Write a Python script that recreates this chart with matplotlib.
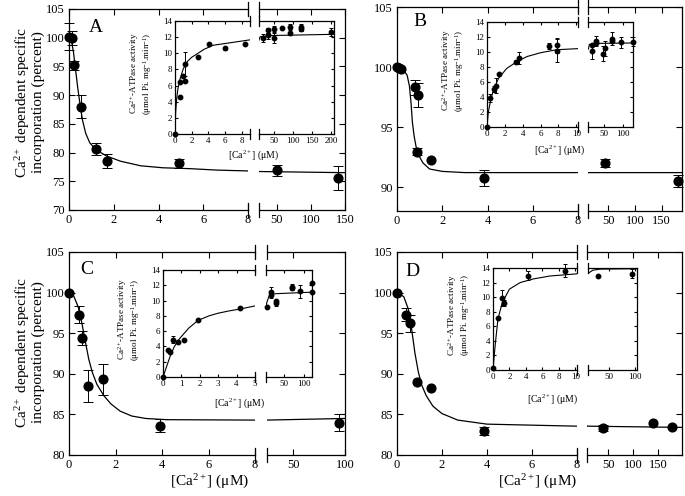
import numpy as np
import matplotlib
matplotlib.use("Agg")
import matplotlib.pyplot as plt

plt.rcParams["font.family"] = ["Liberation Serif", "DejaVu Serif"]
plt.rcParams["mathtext.fontset"] = "custom"
plt.rcParams["mathtext.rm"] = "Liberation Serif"
plt.rcParams["mathtext.it"] = "Liberation Serif:italic"

W, H = 685, 496

# ---- main panels: Ca2+ dependent specific incorporation (percent) ----
a_x = [0, 0.15, 0.22, 0.52, 1.19, 1.68, 4.9, 50, 140]
a_y = [100.2, 100.0, 95.2, 88.0, 80.6, 78.5, 78.1, 76.9, 75.5]
a_err = [2.4, 1.2, 0.8, 2.0, 1.1, 1.2, 0.75, 0.9, 2.1]
a_fit_x = [0, 0.1, 0.2, 0.3, 0.4, 0.5, 0.6, 0.75, 0.93, 1.2, 1.68, 2.3, 3.2, 4.2, 5.4, 6.6, 8, 24, 150]
a_fit_y = [100, 99.6, 97.5, 94.2, 91.0, 88.2, 85.7, 83.3, 81.7, 80.5, 79.4, 78.5, 77.7, 77.35, 77.2, 76.95, 76.8, 76.7, 76.5]

b_x = [0, 0.1, 0.18, 0.8, 0.95, 0.88, 1.51, 3.86, 44, 181]
b_y = [100, 99.9, 99.8, 98.3, 97.7, 92.95, 92.25, 90.75, 92.0, 90.5]
b_err = [0, 0, 0, 0.6, 1.0, 0.3, 0, 0.65, 0.3, 0.5]
b_fit_x = [0, 0.2, 0.35, 0.45, 0.55, 0.62, 0.68, 0.76, 0.85, 1.0, 1.15, 1.44, 2.0, 3, 8, 188]
b_fit_y = [100, 99.9, 99.6, 99.3, 98.4, 97.0, 95.4, 94.2, 93.3, 92.5, 92.0, 91.5, 91.3, 91.2, 91.2, 91.2]

c_x = [0, 0.43, 0.54, 0.83, 1.48, 3.91, 94]
c_y = [100, 97.3, 94.4, 88.5, 89.3, 83.6, 84.0]
c_err = [0, 1.1, 0.9, 2.0, 1.9, 0.8, 1.0]
c_fit_x = [0, 0.2, 0.4, 0.55, 0.7, 0.85, 1.0, 1.2, 1.5, 1.8, 2.2, 2.7, 3.3, 4.2, 8, 25, 100]
c_fit_y = [100, 99.6, 98.2, 96.3, 94.0, 91.8, 90.2, 88.7, 87.3, 86.3, 85.4, 84.8, 84.5, 84.35, 84.3, 84.3, 84.5]

d_x = [0, 0.4, 0.58, 0.89, 1.49, 3.87, 40, 140, 177]
d_y = [100, 97.3, 96.2, 89.0, 88.3, 83.0, 83.3, 83.9, 83.5]
d_err = [0, 0.8, 1.1, 0, 0, 0.5, 0.4, 0, 0]
d_fit_x = [0, 0.3, 0.5, 0.65, 0.8, 0.95, 1.1, 1.3, 1.6, 2.0, 2.7, 4, 8, 197]
d_fit_y = [100, 99.5, 98.0, 95.5, 92.5, 90.2, 88.6, 87.3, 86.0, 85.1, 84.3, 83.8, 83.55, 83.4]

# ---- insets: Ca2+-ATPase activity ----
ai_x = [0, 0.6, 0.6, 0.9, 1.2, 1.2, 2.8, 4.1, 6.0, 8.4, 19, 32, 32, 50, 50, 71, 91, 91, 120, 120, 200]
ai_y = [0, 4.6, 6.4, 7.2, 8.7, 6.6, 9.6, 11.1, 10.6, 11.2, 11.9, 12.3, 12.85, 13.0, 11.9, 13.1, 13.3, 12.55, 13.2, 13.0, 12.6]
ai_err = [0, 0, 0, 0, 1.5, 0, 0, 0, 0.2, 0, 0.5, 0.5, 0.3, 0.4, 0.6, 0, 0.3, 0.3, 0.4, 0.3, 0.5]
ai_fit_x = [0, 0.08, 0.2, 0.35, 0.6, 1.0, 1.5, 2.0, 2.6, 3.5, 4.6, 6.6, 8.9, 12, 40, 208]
ai_fit_y = [0, 2.7, 4.4, 5.6, 6.8, 8.1, 9.0, 9.5, 9.9, 10.5, 11.0, 11.3, 11.65, 12.05, 12.2, 12.35]

bi_x = [0, 0.37, 0.82, 1.04, 1.3, 3.3, 3.6, 7.0, 7.8, 7.8, 18, 18, 29, 29, 48, 53, 72, 72, 93, 124]
bi_y = [0, 3.9, 5.1, 5.5, 7.1, 8.7, 9.2, 10.75, 10.9, 10.2, 10.9, 10.1, 11.5, 11.2, 9.8, 10.5, 11.8, 11.5, 11.3, 11.4]
bi_err = [0, 0.5, 0.4, 1.0, 0, 0.3, 0.8, 0.4, 1.0, 1.5, 0, 1.0, 0.7, 0, 1.0, 1.0, 0.9, 0, 0.7, 0.6]
bi_fit_x = [0, 0.15, 0.45, 0.8, 1.3, 2.2, 3.4, 4.5, 6.0, 7.8, 10.2, 12, 30, 125]
bi_fit_y = [0, 2.0, 3.8, 5.2, 6.5, 7.8, 8.75, 9.4, 9.9, 10.3, 10.45, 11.0, 11.15, 11.2]

ci_x = [0, 0.25, 0.4, 0.54, 0.8, 1.15, 1.9, 4.2, 6.7, 16.8, 16.8, 29.4, 29.4, 71, 71, 90.6, 120, 120]
ci_y = [0, 3.5, 3.3, 4.9, 4.6, 4.8, 7.5, 9.0, 9.2, 11.1, 10.7, 9.7, 10.0, 11.8, 11.6, 11.2, 12.3, 11.1]
ci_err = [0, 0, 0, 0.5, 0, 0, 0, 0, 0, 0.7, 0, 0.4, 0, 0.4, 0, 0.8, 0, 0]
ci_fit_x = [0, 0.2, 0.4, 0.6, 0.8, 1.0, 1.4, 1.9, 2.5, 3.0, 3.6, 4.2, 5.0, 8, 12, 17, 30, 121]
ci_fit_y = [0, 1.4, 2.8, 3.9, 4.7, 5.3, 6.4, 7.4, 8.0, 8.35, 8.65, 8.9, 9.3, 9.9, 10.5, 10.8, 10.9, 11.1]

di_x = [0, 0.6, 1.14, 1.35, 4.2, 8.8, 30, 94]
di_y = [0.25, 7.1, 9.9, 9.2, 12.95, 13.6, 12.9, 13.2]
di_err = [0, 0, 1.1, 0.4, 0.6, 0.9, 0, 0.6]
di_fit_x = [0, 0.15, 0.3, 0.6, 1.14, 2.0, 3.3, 4.9, 6.9, 10.2, 11, 20, 35, 103]
di_fit_y = [0, 2.0, 3.8, 7.0, 9.3, 11.1, 12.0, 12.5, 12.9, 13.2, 13.25, 13.7, 13.85, 13.9]

fig = plt.figure(figsize=(W / 100, H / 100), dpi=100)


def px_rect(x0, x1, yt, yb):
    return [x0 / W, 1 - yb / H, (x1 - x0) / W, (yb - yt) / H]


def broken_pair(xl, xr, yy, lim_l, lim_r, ylim, xt_l, xt_r, yt, fs, tlen, brk):
    axl = fig.add_axes(px_rect(xl[0], xl[1], yy[0], yy[1]))
    axr = fig.add_axes(px_rect(xr[0], xr[1], yy[0], yy[1]))
    for ax, lim, xt in ((axl, lim_l, xt_l), (axr, lim_r, xt_r)):
        ax.set_xlim(lim)
        ax.set_ylim(ylim)
        ax.set_xticks(xt)
        ax.set_yticks(yt)
        ax.tick_params(direction="in", top=True, right=True, labelsize=fs,
                       length=tlen, width=0.8, pad=2 if fs < 8 else 3)
        for sp in ax.spines.values():
            sp.set_linewidth(0.9)
    axl.spines["right"].set_visible(False)
    axl.tick_params(right=False)
    axr.spines["left"].set_visible(False)
    axr.tick_params(left=False, labelleft=False)
    d = brk / (yy[1] - yy[0])
    for ax, xa in ((axl, 1), (axr, 0)):
        for ya in (0, 1):
            ax.plot([xa, xa], [ya - d, ya + d], transform=ax.transAxes,
                    color="k", lw=0.9, clip_on=False)
    return axl, axr


def draw_series(axes, x, y, err, fx, fy, ms, cap, lw):
    x, y, err = np.asarray(x), np.asarray(y), np.asarray(err)
    for ax in axes:
        lo, hi = ax.get_xlim()
        m = (x >= lo) & (x <= hi)
        e = m & (err > 0)
        if e.any():
            c = ax.errorbar(x[e], y[e], yerr=err[e], fmt="none", ecolor="k",
                            elinewidth=0.7, capsize=cap, capthick=0.7)
            for art in c.get_children():
                art.set_clip_on(False)
        ax.plot(x[m], y[m], "o", color="k", ms=ms, clip_on=False, zorder=3)
        ax.plot(fx, fy, color="k", lw=lw)


ylab_main = "Ca$^{2+}$ dependent specific\nincorporation (percent)"
ylab_in = "Ca$^{2+}$-ATPase activity\n(\u03bcmol Pi. mg$^{-1}$.min$^{-1}$)"
xlab = "[Ca$^{2+}$] (\u03bcM)"

panels = [
    dict(letter="A", xl=(69, 248), xr=(259, 345), yy=(9, 210), lim_l=(0, 8), lim_r=(24, 150),
         ylim=(70, 105), xt_r=[50, 100, 150], yt=[70, 75, 80, 85, 90, 95, 100, 105],
         data=(a_x, a_y, a_err, a_fit_x, a_fit_y), lpos=(96, 27),
         ixl=(175, 250), ixr=(259, 334), iyy=(21, 134), ilim_l=(0, 9), ilim_r=(9, 208),
         ixt_l=[0, 2, 4, 6, 8], ixt_r=[50, 100, 150, 200],
         idata=(ai_x, ai_y, ai_err, ai_fit_x, ai_fit_y), ixlab=(254, 155)),
    dict(letter="B", xl=(397, 578), xr=(588, 682), yy=(7, 211), lim_l=(0, 8), lim_r=(12, 188),
         ylim=(88, 105), xt_r=[50, 100, 150], yt=[90, 95, 100, 105],
         data=(b_x, b_y, b_err, b_fit_x, b_fit_y), lpos=(420, 22),
         ixl=(487, 578), ixr=(588, 633), iyy=(22, 127), ilim_l=(0, 10.2), ilim_r=(8.7, 125),
         ixt_l=[0, 2, 4, 6, 8, 10], ixt_r=[50, 100],
         idata=(bi_x, bi_y, bi_err, bi_fit_x, bi_fit_y), ixlab=(560, 150)),
    dict(letter="C", xl=(69, 255), xr=(267, 345), yy=(252, 455), lim_l=(0, 8), lim_r=(25, 100),
         ylim=(80, 105), xt_r=[50, 100], yt=[80, 85, 90, 95, 100, 105],
         data=(c_x, c_y, c_err, c_fit_x, c_fit_y), lpos=(87, 270),
         ixl=(163, 255), ixr=(266, 312), iyy=(270, 377), ilim_l=(0, 5), ilim_r=(5, 121),
         ixt_l=[0, 1, 2, 3, 4, 5], ixt_r=[50, 100],
         idata=(ci_x, ci_y, ci_err, ci_fit_x, ci_fit_y), ixlab=(240, 403)),
    dict(letter="D", xl=(397, 577), xr=(587, 682), yy=(252, 455), lim_l=(0, 8), lim_r=(7.4, 197),
         ylim=(80, 105), xt_r=[50, 100, 150], yt=[80, 85, 90, 95, 100, 105],
         data=(d_x, d_y, d_err, d_fit_x, d_fit_y), lpos=(412, 271),
         ixl=(493, 577), ixr=(588, 637), iyy=(268, 370), ilim_l=(0, 10.2), ilim_r=(11, 103),
         ixt_l=[0, 2, 4, 6, 8, 10], ixt_r=[50, 100],
         idata=(di_x, di_y, di_err, di_fit_x, di_fit_y), ixlab=(553, 399)),
]

for p in panels:
    axl, axr = broken_pair(p["xl"], p["xr"], p["yy"], p["lim_l"], p["lim_r"], p["ylim"],
                           [0, 2, 4, 6, 8], p["xt_r"], p["yt"], 9, 4, 7)
    draw_series((axl, axr), *p["data"], ms=6.3, cap=3.5, lw=0.9)
    fig.text(p["lpos"][0] / W, 1 - p["lpos"][1] / H, p["letter"], fontsize=14,
             ha="center", va="center")

    il, ir = broken_pair(p["ixl"], p["ixr"], p["iyy"], p["ilim_l"], p["ilim_r"], (0, 14),
                         p["ixt_l"], p["ixt_r"], [0, 2, 4, 6, 8, 10, 12, 14], 6.5, 2.5, 5)
    draw_series((il, ir), *p["idata"], ms=3.2, cap=1.5, lw=0.8)
    ycen = (p["iyy"][0] + p["iyy"][1]) / 2 - 4
    fig.text((p["ixl"][0] - 34) / W, 1 - ycen / H, ylab_in, fontsize=6.5, rotation=90,
             ha="center", va="center", linespacing=1.0)
    fig.text(p["ixlab"][0] / W, 1 - p["ixlab"][1] / H, xlab, fontsize=7,
             ha="center", va="center")

# shared labels
fig.text(29 / W, 1 - 102 / H, ylab_main, fontsize=11, rotation=90, ha="center",
         va="center", linespacing=1.0)
fig.text(29 / W, 1 - 352 / H, ylab_main, fontsize=11, rotation=90, ha="center",
         va="center", linespacing=1.0)
fig.text(210 / W, 1 - 482 / H, xlab, fontsize=11, ha="center", va="center")
fig.text(538 / W, 1 - 482 / H, xlab, fontsize=11, ha="center", va="center")

fig.savefig("out.png", dpi=100)
